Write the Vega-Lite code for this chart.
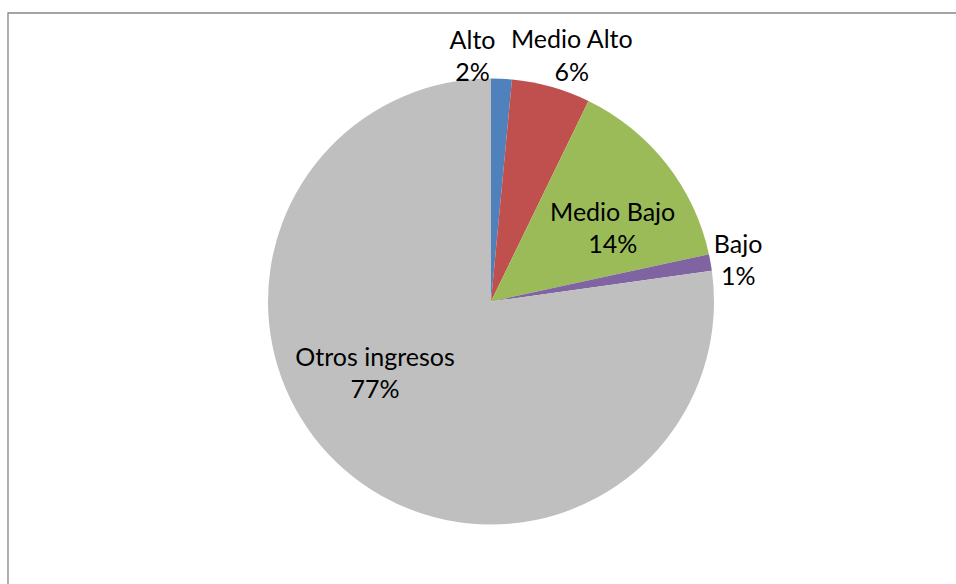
{
  "$schema": "https://vega.github.io/schema/vega-lite/v6.json",
  "width": 956,
  "height": 584,
  "autosize": {"type": "fit", "contains": "padding"},
  "padding": {"left": 7, "top": 12, "right": -4, "bottom": -4},
  "background": "white",
  "config": {"view": {"stroke": null}},
  "data": {
    "values": [
      {"orden": 1, "categoria": "Alto", "valor": 1.5, "etiqueta": "Alto\n2%"},
      {"orden": 2, "categoria": "Medio Alto", "valor": 5.7, "etiqueta": "Medio Alto\n6%"},
      {"orden": 3, "categoria": "Medio Bajo", "valor": 14.4, "etiqueta": "Medio Bajo\n14%"},
      {"orden": 4, "categoria": "Bajo", "valor": 1.2, "etiqueta": "Bajo\n1%"},
      {"orden": 5, "categoria": "Otros ingresos", "valor": 77.2, "etiqueta": "Otros ingresos\n77%"}
    ]
  },
  "layer": [
    {
      "data": {"values": [{"marco": 1}]},
      "mark": {"type": "rect", "fill": null, "stroke": "#878787", "strokeWidth": 1.3},
      "encoding": {}
    },
    {
      "encoding": {
        "theta": {"field": "valor", "type": "quantitative", "stack": true},
        "order": {"field": "orden", "type": "quantitative"},
        "detail": {"field": "categoria", "type": "nominal"}
      },
      "layer": [
        {
          "mark": {"type": "arc", "outerRadius": 223, "x": 483, "y": 288.5},
          "encoding": {
            "color": {
              "field": "categoria",
              "type": "nominal",
              "scale": {
                "domain": ["Alto", "Medio Alto", "Medio Bajo", "Bajo", "Otros ingresos"],
                "range": ["#4F81BD", "#C0504D", "#9BBB59", "#8064A2", "#BFBFBF"]
              },
              "legend": null
            }
          }
        },
        {
          "mark": {"type": "text", "x": 483, "y": 288.5, "radius": 245, "dx": -30, "dy": -16, "font": "Lato", "fontSize": 25, "lineHeight": 32.6, "lineBreak": "\n", "align": "center", "baseline": "middle", "color": "black"},
          "encoding": {"text": {"condition": {"test": "datum.categoria === 'Alto'", "field": "etiqueta"}, "value": ""}}
        },
        {
          "mark": {"type": "text", "x": 483, "y": 288.5, "radius": 255, "dx": 12, "dy": -16, "font": "Lato", "fontSize": 25, "lineHeight": 32.6, "lineBreak": "\n", "align": "center", "baseline": "middle", "color": "black"},
          "encoding": {"text": {"condition": {"test": "datum.categoria === 'Medio Alto'", "field": "etiqueta"}, "value": ""}}
        },
        {
          "mark": {"type": "text", "x": 483, "y": 288.5, "radius": 142, "dx": 10, "dy": -1, "font": "Lato", "fontSize": 25, "lineHeight": 32.6, "lineBreak": "\n", "align": "center", "baseline": "middle", "color": "black"},
          "encoding": {"text": {"condition": {"test": "datum.categoria === 'Medio Bajo'", "field": "etiqueta"}, "value": ""}}
        },
        {
          "mark": {"type": "text", "x": 483, "y": 288.5, "radius": 250, "dx": 1, "dy": -13, "font": "Lato", "fontSize": 25, "lineHeight": 32.6, "lineBreak": "\n", "align": "center", "baseline": "middle", "color": "black"},
          "encoding": {"text": {"condition": {"test": "datum.categoria === 'Bajo'", "field": "etiqueta"}, "value": ""}}
        },
        {
          "mark": {"type": "text", "x": 483, "y": 288.5, "radius": 137, "dx": -26, "dy": -47, "font": "Lato", "fontSize": 25, "lineHeight": 32.6, "lineBreak": "\n", "align": "center", "baseline": "middle", "color": "black"},
          "encoding": {"text": {"condition": {"test": "datum.categoria === 'Otros ingresos'", "field": "etiqueta"}, "value": ""}}
        }
      ]
    }
  ]
}
